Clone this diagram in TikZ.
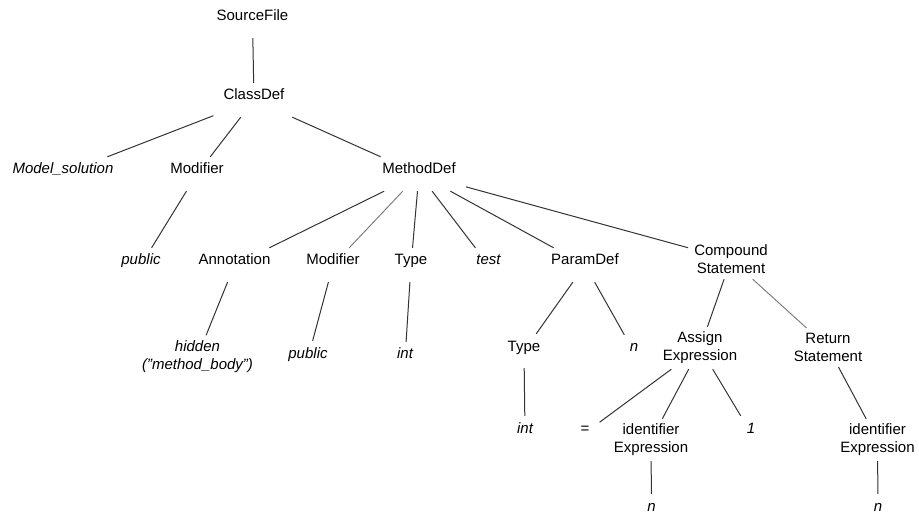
\documentclass[tikz,border=0pt]{standalone}
\usepackage{fontspec}
\setmainfont{Liberation Sans}
\usepackage{tikz}

\begin{document}
\begin{tikzpicture}[x=1pt, y=-1pt,
    lbl/.style={anchor=base, font=\fontsize{15}{18}\selectfont,
      text height=17pt, text depth=17pt, inner xsep=10pt, inner ysep=0pt},
    lit/.style={lbl, font=\fontsize{15}{18}\selectfont\itshape},
    lbltwo/.style={align=center, font=\fontsize{15}{18}\selectfont,
      inner xsep=6pt, inner ysep=5pt},
    branch/.style={draw=black!80, line width=1pt},
    pale/.style={branch, draw=black!50}]
  \useasboundingbox (0,0) rectangle (919,513);

  % root and class
  \node[lbl] (SF) at (252.5, 21) {SourceFile};
  \node[lbl] (CD) at (254, 100) {ClassDef};

  \node[lit] (MS)  at (63, 174)  {Model\_solution};
  \node[lbl] (Mod) at (197, 174) {Modifier};
  \node[lbl] (MD)  at (419, 174) {MethodDef};

  % method children
  \node[lit] (Pub)  at (141, 265)   {public};
  \node[lbl] (Ann)  at (234.5, 265) {Annotation};
  \node[lbl] (ModB) at (333, 265)   {Modifier};
  \node[lbl] (Ty)   at (411, 265)   {Type};
  \node[lit] (Tst)  at (488.5, 265) {test};
  \node[lbl] (PD)   at (585, 265)   {ParamDef};
  \node[lbltwo] (CS) at (731, 259.5) {Compound\\Statement};

  \node[lbltwo, font=\fontsize{15}{18}\selectfont\itshape] (Hid) at (197.5, 356.5)
    {hidden\\("method\_body")};
  \node[lit] (PubB) at (308, 358) {public};
  \node[lit] (Int)  at (405, 359) {int};
  \node[lbl] (TyB)  at (524, 351) {Type};
  \node[lit] (NA)   at (634, 352) {n};
  \node[lbltwo] (AE) at (700, 348) {Assign\\Expression};
  \node[lbltwo] (RS) at (828, 347.5) {Return\\Statement};

  % leaves
  \node[lit] (IntB) at (525, 433) {int};
  \node[lbl] (Eq)   at (585, 433) {=};
  \node[lbltwo] (IE) at (651, 440) {identifier\\Expression};
  \node[lit] (One)  at (751, 433) {1};
  \node[lbltwo] (IEB) at (877.5, 440) {identifier\\Expression};
  \node[lit] (NB) at (651.5, 511) {n};
  \node[lit] (NC) at (878, 511) {n};

  \draw[branch] (SF) -- (CD);
  \draw[branch] (CD) -- (MS);
  \draw[branch] (CD) -- (Mod);
  \draw[branch] (CD) -- (MD);
  \draw[branch] (Mod) -- (Pub);
  \draw[branch] (MD) -- (Ann);
  \draw[pale] (MD) -- (ModB);
  \draw[branch] (MD) -- (Ty);
  \draw[branch] (MD) -- (Tst);
  \draw[branch] (MD) -- (PD);
  \draw[branch] (MD) -- (CS);
  \draw[branch] (Ann) -- (Hid);
  \draw[branch] (ModB) -- (PubB);
  \draw[branch] (Ty) -- (Int);
  \draw[branch] (PD) -- (TyB);
  \draw[branch] (PD) -- (NA);
  \draw[branch] (CS) -- (AE);
  \draw[pale] (CS) -- (RS);
  \draw[branch] (TyB) -- (IntB);
  \draw[branch] (AE) -- (Eq);
  \draw[branch] (AE) -- (IE);
  \draw[branch] (AE) -- (One);
  \draw[branch] (RS) -- (IEB);
  \draw[branch] (IE) -- (NB);
  \draw[branch] (IEB) -- (NC);
\end{tikzpicture}
\end{document}
